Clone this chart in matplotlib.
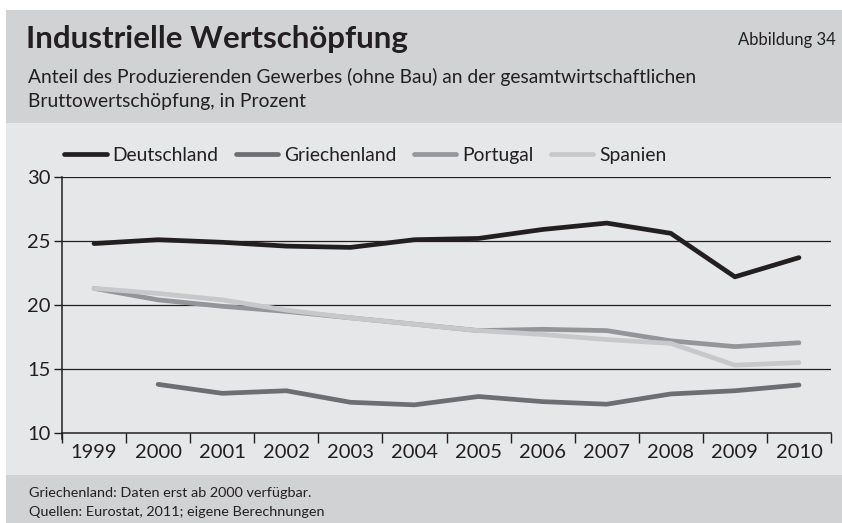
import matplotlib
matplotlib.use("Agg")
import matplotlib.pyplot as plt
from matplotlib.patches import Rectangle

plt.rcParams['font.family'] = ['Lato', 'DejaVu Sans']

years = ['1999', '2000', '2001', '2002', '2003', '2004', '2005', '2006',
         '2007', '2008', '2009', '2010']

deutschland = [24.8, 25.1, 24.9, 24.6, 24.5, 25.1, 25.2, 25.9, 26.4, 25.6, 22.2, 23.7]
# Griechenland: erst ab 2000
griechenland = [None, 13.8, 13.1, 13.3, 12.4, 12.2, 12.85, 12.45, 12.25, 13.05, 13.3, 13.75]
portugal = [21.3, 20.4, 19.9, 19.5, 19.0, 18.5, 18.0, 18.1, 18.0, 17.2, 16.75, 17.05]
spanien = [21.3, 20.9, 20.4, 19.6, 19.0, 18.5, 18.0, 17.7, 17.3, 17.0, 15.3, 15.5]

series = [('Deutschland', deutschland, '#231f20'),
          ('Griechenland', griechenland, '#6d6e71'),
          ('Portugal', portugal, '#939598'),
          ('Spanien', spanien, '#c7c8ca')]

W, H = 842, 523
TXT = '#231f20'
fig = plt.figure(figsize=(W / 100, H / 100), dpi=100)
fig.patch.set_facecolor('white')

def band(y0, y1, color):
    fig.patches.append(Rectangle((6 / W, 1 - y1 / H), 1 - 6 / W, (y1 - y0) / H,
                                 transform=fig.transFigure, facecolor=color,
                                 edgecolor='none', zorder=-10))

band(10, 123, '#d1d2d4')
band(123, 475, '#e6e7e8')
band(475, 523, '#d1d2d4')

fig.text(26 / W, 1 - 39 / H, 'Industrielle Wertschöpfung', fontsize=22.5,
         fontweight='bold', color=TXT, va='center', ha='left')
fig.text(836 / W, 1 - 40 / H, 'Abbildung 34', fontsize=12, color=TXT,
         va='center', ha='right')
fig.text(28 / W, 1 - 77 / H,
         'Anteil des Produzierenden Gewerbes (ohne Bau) an der gesamtwirtschaftlichen',
         fontsize=13.9, color=TXT, va='center', ha='left')
fig.text(28 / W, 1 - 102 / H, 'Bruttowertschöpfung, in Prozent',
         fontsize=13.9, color=TXT, va='center', ha='left')
fig.text(29 / W, 1 - 493 / H, 'Griechenland: Daten erst ab 2000 verfügbar.',
         fontsize=10.4, color=TXT, va='center', ha='left')
fig.text(29 / W, 1 - 512 / H, 'Quellen: Eurostat, 2011; eigene Berechnungen',
         fontsize=10.4, color=TXT, va='center', ha='left')

ax = fig.add_axes([62 / W, 1 - 433 / H, (831 - 62) / W, (433 - 177) / H])
ax.set_facecolor('none')

x = list(range(len(years)))
handles = []
for name, vals, color in series:
    xs = [i for i, v in zip(x, vals) if v is not None]
    ys = [v for v in vals if v is not None]
    ln, = ax.plot(xs, ys, color=color, linewidth=3.4, solid_capstyle='round',
                  solid_joinstyle='round', label=name, zorder=3)
    handles.append(ln)

ax.set_xlim(-0.5, len(years) - 0.5)
ax.set_ylim(10, 30)
ax.set_yticks([10, 15, 20, 25, 30])
for yv in [15, 20, 25, 30]:
    ax.axhline(yv, color=TXT, linewidth=0.9, zorder=1)

# year labels sit between the boundary ticks
ax.set_xticks([i - 0.5 for i in range(len(years) + 1)])
ax.set_xticklabels([])
ax.set_xticks(x, minor=True)
ax.set_xticklabels(years, minor=True)
ax.tick_params(axis='x', which='major', length=7, width=1, direction='out', color=TXT)
ax.tick_params(axis='x', which='minor', length=0, pad=8, labelsize=14.5, labelcolor=TXT)
ax.tick_params(axis='y', length=6, width=1, direction='out', pad=2, labelsize=14.5,
               labelcolor=TXT, color=TXT)

for side in ['top', 'right']:
    ax.spines[side].set_visible(False)
for side in ['left', 'bottom']:
    ax.spines[side].set_color(TXT)
    ax.spines[side].set_linewidth(1.1)
ax.spines['left'].set_bounds(9.5, 30)

leg = ax.legend(handles=handles, ncol=4, loc='lower left',
                bbox_to_anchor=(-0.012, 1.005), frameon=False, fontsize=13.9,
                handlelength=2.2, handletextpad=0.3, columnspacing=0.9,
                borderaxespad=0.2)
for t in leg.get_texts():
    t.set_color(TXT)

fig.savefig('out.png', dpi=100, facecolor=fig.get_facecolor())
